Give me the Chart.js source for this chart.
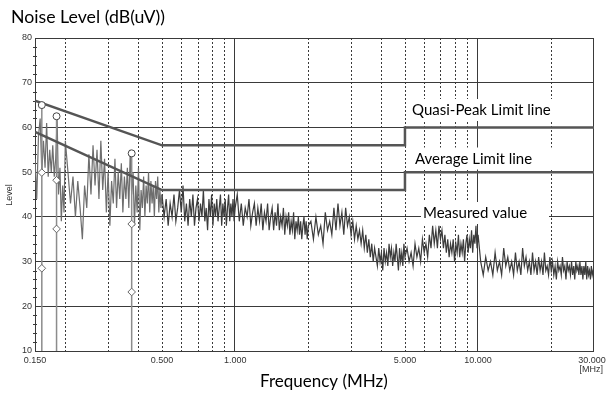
<!DOCTYPE html>
<html><head><meta charset="utf-8">
<script src="https://cdn.jsdelivr.net/npm/chart.js@4/dist/chart.umd.min.js"></script>
<style>html,body{margin:0;padding:0;background:#fff;overflow:hidden}#wrap{width:606px;height:394px;position:relative}</style>
</head><body><div id="wrap"><canvas id="c" width="606" height="394"></canvas></div>
<script>
// ---- axis / grid values ----
const yTicks = [10, 20, 30, 40, 50, 60, 70, 80];
const xTickLabels = [0.15, 0.5, 1, 5, 10, 30];
const xGridDotted = [0.2, 0.3, 0.4, 0.5, 0.6, 0.7, 0.8, 0.9, 2, 3, 4, 5, 6, 7, 8, 9, 20];
const xGridSolid = [1, 10, 30];

// ---- limit lines ----
const qpLimitFreq = [0.15, 0.5, 5, 5, 30];
const qpLimitLevel = [66, 56, 56, 60, 60];
const avgLimitFreq = [0.15, 0.5, 5, 5, 30];
const avgLimitLevel = [59, 46, 46, 50, 50];

// ---- peak markers ----
const markerFreq = [0.160, 0.184, 0.375];
const qpMarkerLevel = [65, 62.5, 54.2];
const avgMarkerLevelA = [49.9, 48.2, 38.4];
const avgMarkerLevelB = [28.5, 37.3, 23.2];

// ---- measured trace ----
const freqBandA = [0.150,0.1525,0.155,0.1575,0.160,0.1625,0.165,0.1675,0.170,0.1725,0.175,0.1775,0.180,0.1825,0.185,0.1875,0.190,0.1925,0.195,0.1975,0.200];
const levelBandA = [53,44,58,62,50,57,51,61,49,55,50,56,49,53,62,45,51,39,47,41,57];

const freqBandB = [0.205,0.21,0.215,0.22,0.225,0.23,0.235,0.24,0.245,0.25,0.255,0.26,0.265,0.27,0.275,0.28,0.285,0.29,0.295,0.3,0.305,0.31,0.315,0.32,0.325,0.33,0.335,0.34,0.345,0.35,0.355,0.36,0.365,0.37,0.375,0.38,0.385,0.39,0.395,0.4,0.405,0.41,0.415,0.42,0.425,0.43,0.435,0.44,0.445,0.45,0.455,0.46,0.465,0.47,0.475,0.48,0.485,0.49,0.495,0.5];
const levelBandB = [50,43,49,40,48,42,35,47,42,54, 45,56,47,55,44,57,46,53,41,50, 38,48,43,53,42,50,44,52,41,49, 44,51,42,55,45,50,38,47,41,51, 37,46,42,49,40,47,43,50,41,48, 43,47,40,48,44,49,41,46,42,45];

const freqBandC = [0.51,0.52,0.53,0.54,0.55,0.56,0.57,0.58,0.59,0.60,0.61,0.62,0.63,0.64,0.65,0.66,0.67,0.68,0.69,0.70,0.71,0.72,0.73,0.74,0.75,0.76,0.77,0.78,0.79,0.80,0.81,0.82,0.83,0.84,0.85,0.86,0.87,0.88,0.89,0.90,0.91,0.92,0.93,0.94,0.95,0.96,0.97,0.98,0.99,1.00];
const levelBandC = [40,44,38,43,40,45,39,42,46,41, 47,39,43,38,44,40,45,38,42,44, 39,43,40,46,39,42,37,44,40,45, 38,43,40,44,39,42,45,38,43,40, 44,38,42,45,39,43,40,44,39,42];

const freqBandD = [1.02,1.04,1.06,1.08,1.10,1.12,1.14,1.16,1.18,1.20,1.22,1.24,1.26,1.28,1.30,1.32,1.34,1.36,1.38,1.40,1.42,1.44,1.46,1.48,1.50,1.52,1.54,1.56,1.58,1.60,1.62,1.64,1.66,1.68,1.70,1.72,1.74,1.76,1.78,1.80,1.82,1.84,1.86,1.88,1.90,1.92,1.94,1.96,1.98,2.00];
const levelBandD = [45,39,43,38,42,40,44,38,41,43, 38,42,39,43,37,41,39,43,37,40, 42,37,41,38,43,37,40,38,42,36, 40,38,41,36,39,37,41,35,39,37, 40,36,39,35,38,40,36,39,35,38];

const freqBandE = [2.05,2.10,2.15,2.20,2.25,2.30,2.35,2.40,2.45,2.50,2.55,2.60,2.65,2.70,2.75,2.80,2.85,2.90,2.95,3.00,3.05,3.10,3.15,3.20,3.25,3.30,3.35,3.40,3.45,3.50,3.55,3.60,3.65,3.70,3.75,3.80,3.85,3.90,3.95,4.00,4.05,4.10,4.15,4.20,4.25,4.30,4.35,4.40,4.45,4.50,4.55,4.60,4.65,4.70,4.75,4.80,4.85,4.90,4.95,5.00];
const levelBandE = [39,35,40,36,38,34,41,37,39,36, 42,37,43,38,41,36,42,38,40,36, 39,35,38,35,37,34,37,33,36,32, 35,31,34,30,33,31,29,33,30,32, 28,33,30,32,29,34,31,33,29,32, 30,34,31,28,33,30,32,29,34,31];

const freqBandF = [5.1,5.2,5.3,5.4,5.5,5.6,5.7,5.8,5.9,6.0,6.1,6.2,6.3,6.4,6.5,6.6,6.7,6.8,6.9,7.0,7.1,7.2,7.3,7.4,7.5,7.6,7.7,7.8,7.9,8.0,8.1,8.2,8.3,8.4,8.5,8.6,8.7,8.8,8.9,9.0,9.1,9.2,9.3,9.4,9.5,9.6,9.7,9.8,9.9,10.0];
const levelBandF = [33,30,32,29,34,31,33,30,35,32, 34,31,36,33,38,34,37,33,38,35, 37,33,36,32,35,31,34,32,35,30, 34,32,36,31,34,32,35,30,34,36, 32,35,33,37,32,36,34,38,33,36];

const freqBandG = [10.25,10.5,10.75,11,11.25,11.5,11.75,12,12.25,12.5,12.75,13,13.25,13.5,13.75,14,14.25,14.5,14.75,15,15.25,15.5,15.75,16,16.25,16.5,16.75,17,17.25,17.5,17.75,18,18.25,18.5,18.75,19,19.25,19.5,19.75,20,20.25,20.5,20.75,21,21.25,21.5,21.75,22,22.25,22.5,22.75,23,23.25,23.5,23.75,24,24.25,24.5,24.75,25,25.25,25.5,25.75,26,26.25,26.5,26.75,27,27.25,27.5,27.75,28,28.25,28.5,28.75,29,29.25,29.5,29.75,30];
const levelBandG = [30,27,31,28,30,27,32,28,30,27, 33,29,31,28,30,27,32,28,30,27, 33,29,31,28,30,27,32,28,30,27, 31,28,30,27,32,28,29,27,31,28, 30,27,29,26,30,28,29,27,31,28, 29,26,30,28,29,27,30,27,29,26, 30,28,29,27,30,27,29,26,29,27, 30,26,29,27,28,26,29,27,28,27];

// ---- text ----
const titleText = 'Noise Level (dB(uV))';
const xTitleText = 'Frequency (MHz)';
const yTitleText = 'Level';
const unitText = '[MHz]';
const annotations = [
  {text: 'Quasi-Peak Limit line', x: 412, y: 115, w: 156},
  {text: 'Average Limit line', x: 415, y: 163.5, w: 133},
  {text: 'Measured value', x: 423, y: 218, w: 122}
];

const traceFreq = [].concat(freqBandA, freqBandB, freqBandC, freqBandD, freqBandE, freqBandF, freqBandG);
const traceLevel = [].concat(levelBandA, levelBandB, levelBandC, levelBandD, levelBandE, levelBandF, levelBandG);
const pts = (fs, ls) => fs.map((f, i) => ({x: f, y: ls[i]}));
const stems = [];
markerFreq.forEach((f, i) => { stems.push({x: f, y: 10}, {x: f, y: qpMarkerLevel[i]}, {x: f, y: null}); });

const FONT = 'Lato, "Open Sans", sans-serif';
const SMALL = '"Liberation Sans", Arial, sans-serif';

const gridPlugin = {
  id: 'gridPlugin',
  beforeDatasetsDraw(chart) {
    const {ctx, chartArea: a, scales: {x, y}} = chart;
    ctx.save();
    ctx.lineWidth = 1;
    ctx.strokeStyle = '#3a3a3a';
    ctx.setLineDash([2, 2]);
    xGridDotted.forEach(f => {
      const px = Math.round(x.getPixelForValue(f)) + 0.5;
      ctx.beginPath(); ctx.moveTo(px, a.top); ctx.lineTo(px, a.bottom); ctx.stroke();
    });
    ctx.setLineDash([]);
    xGridSolid.forEach(f => {
      const px = Math.round(x.getPixelForValue(f)) - 0.5;
      ctx.beginPath(); ctx.moveTo(px, a.top); ctx.lineTo(px, a.bottom); ctx.stroke();
    });
    for (let v = 12; v < 80; v += 2) {
      if (v % 10 === 0) continue;
      const py = Math.round(y.getPixelForValue(v)) + 0.5;
      ctx.beginPath(); ctx.moveTo(a.left - 2, py); ctx.lineTo(a.left + 2, py); ctx.stroke();
    }
    ctx.restore();
  },
  afterDatasetsDraw(chart) {
    const {ctx} = chart;
    ctx.save();
    ctx.font = '15px ' + FONT;
    ctx.textBaseline = 'alphabetic';
    annotations.forEach(an => {
      ctx.fillStyle = '#fff';
      ctx.fillRect(an.x - 2, an.y - 16, an.w + 6, 22);
      ctx.fillStyle = '#000';
      ctx.fillText(an.text, an.x, an.y, an.w);
    });
    ctx.restore();
  },
  afterDraw(chart) {
    const {ctx, scales: {x}} = chart;
    ctx.save();
    ctx.fillStyle = '#000';
    ctx.textBaseline = 'alphabetic';
    ctx.font = '18px ' + FONT;
    ctx.fillText(titleText, 11, 23, 154);
    ctx.font = '17px ' + FONT;
    ctx.fillText(xTitleText, 260, 387, 128);
    ctx.fillStyle = '#333';
    ctx.font = '9px ' + SMALL;
    ctx.textAlign = 'center';
    xTickLabels.forEach(f => {
      ctx.fillText(f.toFixed(3), x.getPixelForValue(f) - (f === 30 ? 2 : 0), 363);
    });
    ctx.textAlign = 'right';
    ctx.fillText(unitText, 603, 372);
    ctx.translate(10, 195);
    ctx.rotate(-Math.PI / 2);
    ctx.textAlign = 'center';
    ctx.textBaseline = 'middle';
    ctx.fillText(yTitleText, 0, 0);
    ctx.restore();
  }
};

new Chart(document.getElementById('c'), {
  type: 'line',
  data: {
    datasets: [
      {data: pts(markerFreq, qpMarkerLevel), showLine: false, pointStyle: 'circle', pointRadius: 3.5, pointBackgroundColor: '#fff', pointBorderColor: '#444', pointBorderWidth: 1, order: 0},
      {data: pts(markerFreq.concat(markerFreq), avgMarkerLevelA.concat(avgMarkerLevelB)), showLine: false, pointStyle: 'rectRot', pointRadius: 3.8, pointBackgroundColor: '#fff', pointBorderColor: '#666', pointBorderWidth: 1, order: 0},
      {data: pts(qpLimitFreq, qpLimitLevel), borderColor: '#555', borderWidth: 2.5, pointRadius: 0, order: 1},
      {data: pts(avgLimitFreq, avgLimitLevel), borderColor: '#555', borderWidth: 2.5, pointRadius: 0, order: 1},
      {data: stems, borderColor: '#8c8c8c', borderWidth: 1.5, pointRadius: 0, spanGaps: false, order: 2},
      {data: pts(traceFreq, traceLevel), borderColor: '#3c3c3c', borderWidth: 1.2, pointRadius: 0, tension: 0, order: 3,
       segment: {borderColor: c => c.p0.parsed.x < 0.5 ? '#6e6e6e' : '#3c3c3c'}}
    ]
  },
  options: {
    responsive: false, animation: false, devicePixelRatio: 1,
    layout: {padding: {left: 0, right: 12, top: 38, bottom: 0}},
    plugins: {legend: {display: false}, tooltip: {enabled: false}, title: {display: false}},
    scales: {
      x: {type: 'logarithmic', min: 0.15, max: 30,
          grid: {display: false}, border: {display: false}, ticks: {display: false},
          afterFit(s) { s.height = 43; }},
      y: {min: 10, max: 80,
          afterBuildTicks(s) { s.ticks = yTicks.map(v => ({value: v})); },
          ticks: {font: {size: 9, family: SMALL}, color: '#333', padding: 3},
          grid: {color: '#3a3a3a', lineWidth: 1, drawTicks: false},
          border: {display: true, color: '#3a3a3a'},
          afterFit(s) { s.width = 35; }}
    }
  },
  plugins: [gridPlugin]
});
</script></body></html>
